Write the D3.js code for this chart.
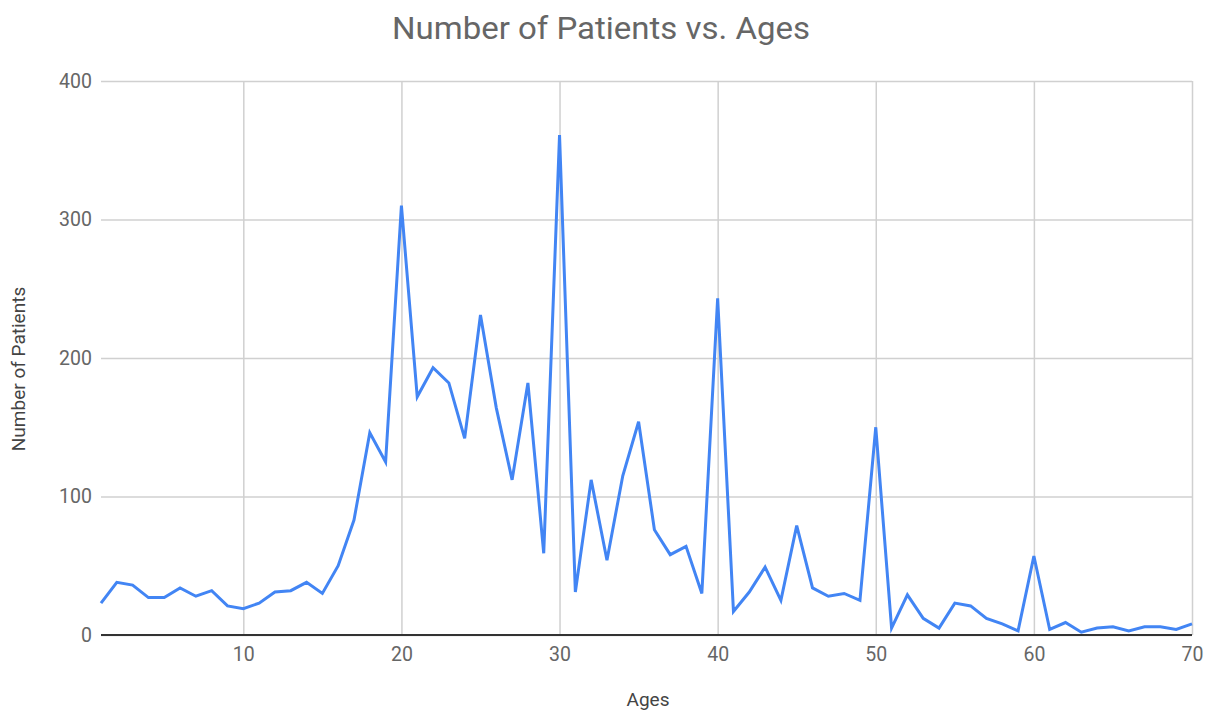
<!DOCTYPE html>
<html>
<head>
<meta charset="utf-8">
<script src="https://cdn.jsdelivr.net/npm/d3@7"></script>
<style>
  html, body { margin: 0; padding: 0; background: #fff; }
  svg { display: block; }
  text { font-family: Roboto, "Noto Sans", Arial, sans-serif; }
</style>
</head>
<body>
<svg id="chart" width="1207" height="713"></svg>
<script>
const ages = d3.range(1, 71);
const patients = [
  23, 38, 36, 27, 27, 34, 28, 32, 21, 19,
  23, 31, 32, 38, 30, 50, 83, 146, 125, 310,
  172, 193, 182, 142, 231, 164, 112, 182, 59, 361,
  31, 112, 54, 115, 154, 76, 58, 64, 30, 243,
  17, 31, 49, 25, 79, 34, 28, 30, 25, 150,
  5, 29, 12, 5, 23, 21, 12, 8, 3, 57,
  4, 9, 2, 5, 6, 3, 6, 6, 4, 8
];
const xTicks = [10, 20, 30, 40, 50, 60, 70];
const yTicks = [0, 100, 200, 300, 400];
const titleText = "Number of Patients vs. Ages";
const xTitle = "Ages";
const yTitle = "Number of Patients";

const svg = d3.select("#chart");
const pLeft = 101, pRight = 1192, pTop = 81, pBottom = 635;

const x = d3.scaleLinear().domain([1, 70]).range([pLeft, pRight]);
const y = d3.scaleLinear().domain([0, 400]).range([pBottom, pTop]);

// horizontal gridlines
svg.append("g")
  .attr("transform", `translate(${pLeft},0)`)
  .call(d3.axisLeft(y).tickValues(yTicks).tickSize(-(pRight - pLeft)).tickFormat(d => d).tickPadding(8))
  .call(g => g.select(".domain").remove())
  .call(g => g.selectAll(".tick line").attr("stroke", "#d0d0d0").attr("stroke-width", 1.5))
  .call(g => g.selectAll(".tick text").attr("fill", "#666").attr("font-size", 19.5).attr("x", -9));

// vertical gridlines
svg.append("g")
  .attr("transform", `translate(0,${pBottom})`)
  .call(d3.axisBottom(x).tickValues(xTicks).tickSize(-(pBottom - pTop)).tickFormat(d => d).tickPadding(12))
  .call(g => g.select(".domain").remove())
  .call(g => g.selectAll(".tick line").attr("stroke", "#d0d0d0").attr("stroke-width", 1.5))
  .call(g => g.selectAll(".tick text").attr("fill", "#666").attr("font-size", 19.5));

// baseline
svg.append("line")
  .attr("x1", pLeft).attr("x2", pRight)
  .attr("y1", y(0)).attr("y2", y(0))
  .attr("stroke", "#333").attr("stroke-width", 2);

// series line
const line = d3.line().x((d, i) => x(ages[i])).y(d => y(d));
svg.append("path")
  .datum(patients)
  .attr("fill", "none")
  .attr("stroke", "#4285f4")
  .attr("stroke-width", 3)
  .attr("stroke-linejoin", "miter")
  .attr("d", line);

// title
svg.append("text")
  .attr("x", 601).attr("y", 39)
  .attr("text-anchor", "middle")
  .attr("fill", "#666")
  .attr("font-size", 31)
  .attr("textLength", 418)
  .attr("lengthAdjust", "spacingAndGlyphs")
  .text(titleText);

// axis titles
svg.append("text")
  .attr("x", 648).attr("y", 706)
  .attr("text-anchor", "middle")
  .attr("fill", "#444")
  .attr("font-size", 19)
  .text(xTitle);

svg.append("text")
  .attr("transform", `translate(25,369) rotate(-90)`)
  .attr("text-anchor", "middle")
  .attr("fill", "#444")
  .attr("font-size", 19)
  .text(yTitle);
</script>
</body>
</html>
